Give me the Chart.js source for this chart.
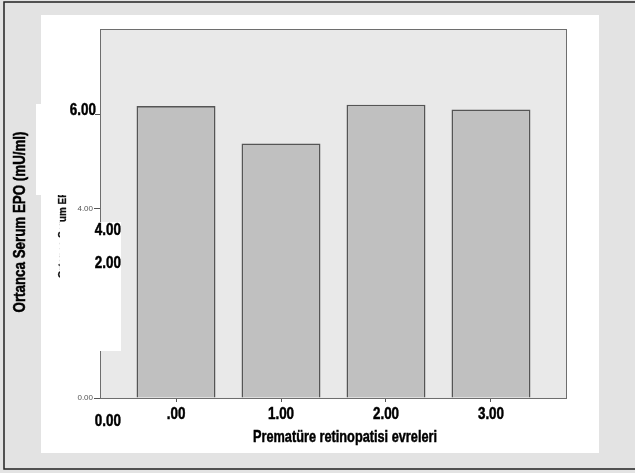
<!DOCTYPE html>
<html>
<head>
<meta charset="utf-8">
<script src="https://cdn.jsdelivr.net/npm/chart.js@4.4.0/dist/chart.umd.min.js"></script>
<style>
  html, body { margin: 0; padding: 0; background: #e3e3e3; }
  #wrap { width: 635px; height: 473px; }
</style>
</head>
<body>
<div id="wrap"><canvas id="epoChart" width="635" height="473"></canvas></div>
<script>
// data
const stages = ['.00', '1.00', '2.00', '3.00'];
const medianEpo = [6.17, 5.38, 6.20, 6.10];
const yTicks = [0, 2, 4, 6];
const pastedLabels = ['6.00', '4.00', '2.00', '0.00'];

const SANS = '"Liberation Sans", Arial, sans-serif';
const SQUEEZE = 0.79; // fake a condensed face, none is installed

// draw heavy text squeezed sideways; width fits it, or squeeze sets the factor
function narrowText(c, text, x, y, size, width, heavy = 0.5, squeeze = SQUEEZE) {
    c.save();
    c.font = 'bold ' + size + 'px ' + SANS;
    const w = c.measureText(text).width;
    const k = width ? width / w : squeeze;
    c.translate(x, y);
    c.scale(k, 1);
    c.fillText(text, 0, 0);
    if (heavy) {
        c.strokeStyle = c.fillStyle;
        c.lineWidth = heavy;
        c.strokeText(text, 0, 0);
    }
    c.restore();
}

// paper, frame, pasted patches and texts
const decor = {
    id: 'decor',
    beforeDraw(chart) {
        const c = chart.ctx, a = chart.chartArea;
        c.save();
        c.fillStyle = '#e3e3e3';
        c.fillRect(0, 0, chart.width, chart.height);
        c.strokeStyle = '#222';
        c.lineWidth = 1.5;
        c.beginPath();
        c.moveTo(635, 2); c.lineTo(4, 2); c.lineTo(4, 469); c.lineTo(635, 469);
        c.stroke();
        c.fillStyle = '#ffffff';
        c.fillRect(41, 15, 558, 438);
        c.fillStyle = '#e9e9e9';
        c.fillRect(a.left, a.top, a.right - a.left, a.bottom - a.top);
        c.restore();
    },
    afterDraw(chart) {
        const c = chart.ctx, a = chart.chartArea;
        c.save();
        c.strokeStyle = '#6e6e6e';
        c.lineWidth = 1;
        c.strokeRect(a.left + 0.5, a.top + 0.5, a.right - a.left - 1, a.bottom - a.top);

        // category labels under the bars
        const xs = chart.scales.x;
        c.fillStyle = '#000';
        c.textAlign = 'center';
        c.textBaseline = 'middle';
        stages.forEach((s, i) => narrowText(c, s, xs.getPixelForValue(i), 414, 17));

        // original small axis title, mostly hidden under the patches
        c.save();
        c.font = 'bold 11px ' + SANS;
        const startY = 222 + c.measureText('Ortanca Ser').width * 0.9;
        c.translate(66, startY);
        c.rotate(-Math.PI / 2);
        c.textAlign = 'left';
        c.textBaseline = 'alphabetic';
        c.fillStyle = '#111';
        narrowText(c, 'Ortanca Serum EPO (mU/ml)', 0, 0, 11, 0, 0.3, 0.9);
        c.restore();

        // white patches pasted over the axis
        c.fillStyle = '#ffffff';
        c.fillRect(36, 104, 59, 91);
        c.fillRect(60, 222, 61, 129);

        c.fillStyle = '#000';
        c.textAlign = 'right';
        c.textBaseline = 'middle';
        narrowText(c, pastedLabels[0], 96, 110, 17);
        narrowText(c, pastedLabels[1], 121, 230, 17);
        narrowText(c, pastedLabels[2], 121, 263, 17);
        narrowText(c, pastedLabels[3], 121, 421, 17);

        // axis titles
        c.textAlign = 'center';
        narrowText(c, 'Prematüre retinopatisi evreleri', 345, 437, 17, 184);
        c.translate(20, 222);
        c.rotate(-Math.PI / 2);
        narrowText(c, 'Ortanca Serum EPO (mU/ml)', 0, 0, 17, 181);
        c.restore();
    }
};

const ctx = document.getElementById('epoChart').getContext('2d');
const epoChart = new Chart(ctx, {
    type: 'bar',
    data: {
        datasets: [{
            label: 'Ortanca Serum EPO',
            data: stages.map((s, i) => ({ x: i, y: medianEpo[i] })),
            backgroundColor: '#c0c0c0',
            borderColor: '#555',
            borderWidth: 1.6,
            categoryPercentage: 1,
            barPercentage: 0.752
        }]
    },
    options: {
        responsive: false,
        animation: false,
        layout: {
            padding: { left: 60, top: 29, right: 68, bottom: 45 }
        },
        plugins: {
            legend: { display: false },
            tooltip: { enabled: false }
        },
        scales: {
            x: {
                type: 'linear',
                offset: false,
                min: -0.724,
                max: 3.724,
                afterBuildTicks: (scale) => { scale.ticks = stages.map((s, i) => ({ value: i })); },
                afterFit: (scale) => { scale.height = 30; },
                border: { display: false },
                grid: { offset: false, drawOnChartArea: false, tickLength: 4, color: '#555' },
                ticks: {
                    padding: 3,
                    color: 'rgba(0,0,0,0)',
                    font: { family: SANS, size: 15, weight: 'bold' },
                    callback: (v, i) => stages[i]
                }
            },
            y: {
                min: 0,
                max: 7.8,
                afterBuildTicks: (scale) => { scale.ticks = yTicks.map(v => ({ value: v })); },
                afterFit: (scale) => { scale.width = 40; },
                border: { display: false },
                grid: { drawOnChartArea: false, tickLength: 6, color: '#555' },
                ticks: {
                    padding: 1,
                    color: '#555',
                    font: { family: SANS, size: 8 },
                    callback: (v) => v.toFixed(2)
                }
            }
        }
    },
    plugins: [decor]
});
</script>
</body>
</html>
